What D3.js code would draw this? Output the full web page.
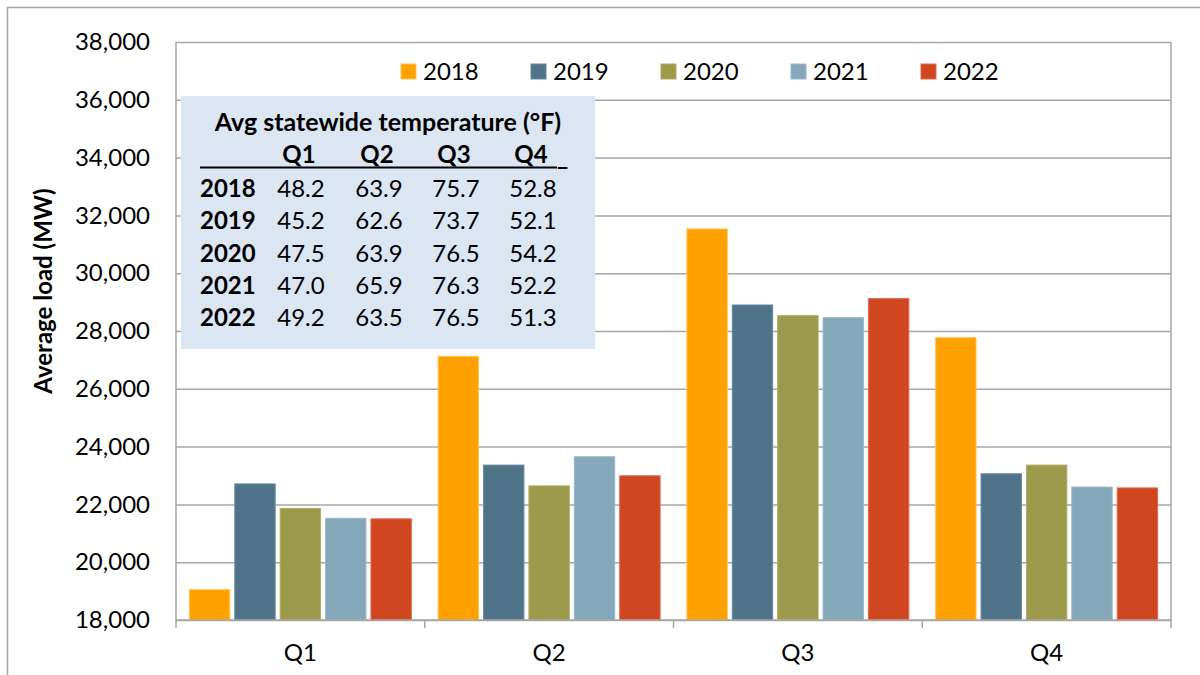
<!DOCTYPE html>
<html>
<head>
<meta charset="utf-8">
<script src="https://cdn.jsdelivr.net/npm/d3@7"></script>
<style>
  html, body { margin: 0; padding: 0; background: #fff; }
  svg { display: block; font-family: Lato, "Open Sans", sans-serif; }
</style>
</head>
<body>
<svg id="chart" width="1200" height="675"></svg>
<script>
// ---- Data ----
const quarters = ["Q1", "Q2", "Q3", "Q4"];
const years = ["2018", "2019", "2020", "2021", "2022"];
const load2018 = [19050, 27120, 31530, 27770];
const load2019 = [22710, 23360, 28900, 23060];
const load2020 = [21860, 22640, 28530, 23360];
const load2021 = [21520, 23650, 28460, 22600];
const load2022 = [21500, 22990, 29120, 22570];
const yTicks = [18000, 20000, 22000, 24000, 26000, 28000, 30000, 32000, 34000, 36000, 38000];
const colors = ["#FFA100", "#4F748A", "#9C9B4C", "#84A7B9", "#D04621"];
const strokes = ["#FFC355", "#6B8A9D", "#ACAB66", "#9CB8C7", "#DE6A4A"];

const tableTitle = "Avg statewide temperature (\u00B0F)";
const tableHeader = ["Q1", "Q2", "Q3", "Q4"];
const temp2018 = ["48.2", "63.9", "75.7", "52.8"];
const temp2019 = ["45.2", "62.6", "73.7", "52.1"];
const temp2020 = ["47.5", "63.9", "76.5", "54.2"];
const temp2021 = ["47.0", "65.9", "76.3", "52.2"];
const temp2022 = ["49.2", "63.5", "76.5", "51.3"];

const series = [load2018, load2019, load2020, load2021, load2022];
const tempRows = [temp2018, temp2019, temp2020, temp2021, temp2022];

// ---- Layout ----
const svg = d3.select("#chart");
const L = 176, R = 1171, T = 42, B = 620;
const gridColor = "#A6A6A6";
const fs = 24;

// outer frame (right/bottom run off-canvas)
svg.append("rect").attr("x", 7.5).attr("y", 7.5).attr("width", 1300).attr("height", 800)
  .attr("fill", "none").attr("stroke", gridColor).attr("stroke-width", 1.5);

const y = d3.scaleLinear().domain([18000, 38000]).range([B, T]);
const x0 = d3.scaleBand().domain(quarters).range([L, R]).padding(0);
const x1 = d3.scaleBand().domain(years).range([0, x0.bandwidth()]).paddingInner(0.11).paddingOuter(0.295);

// gridlines
const grid = svg.append("g").attr("transform", `translate(${L},0)`)
  .call(d3.axisLeft(y).tickValues(yTicks).tickSize(-(R - L)).tickFormat(""));
grid.select(".domain").remove();
grid.selectAll("line").attr("stroke", gridColor).attr("stroke-width", 1.5);

// y axis labels
const yAxis = svg.append("g").attr("transform", `translate(${L},0)`)
  .call(d3.axisLeft(y).tickValues(yTicks).tickSize(0).tickPadding(26).tickFormat(d3.format(",")));
yAxis.select(".domain").remove();
yAxis.selectAll("text").attr("font-family", "Lato").attr("font-size", fs).attr("fill", "#000");

// plot borders left/right
svg.append("line").attr("x1", L).attr("x2", L).attr("y1", T).attr("y2", B + 8)
  .attr("stroke", gridColor).attr("stroke-width", 1.5);
svg.append("line").attr("x1", R).attr("x2", R).attr("y1", T).attr("y2", B + 8)
  .attr("stroke", gridColor).attr("stroke-width", 1.5);

// x axis ticks at category boundaries
const bounds = quarters.slice(1).map(q => x0(q));
svg.append("g").selectAll("line").data(bounds).join("line")
  .attr("x1", d => d).attr("x2", d => d).attr("y1", B).attr("y2", B + 8)
  .attr("stroke", gridColor).attr("stroke-width", 1.5);

// bars
const gq = svg.append("g").selectAll("g").data(quarters).join("g")
  .attr("transform", q => `translate(${x0(q)},0)`);
gq.selectAll("rect").data((q, qi) => years.map((yr, i) => ({ yr, i, v: series[i][qi] })))
  .join("rect")
  .attr("x", d => x1(d.yr))
  .attr("width", x1.bandwidth())
  .attr("y", d => y(d.v))
  .attr("height", d => B - y(d.v))
  .attr("fill", d => colors[d.i])
  .attr("stroke", d => strokes[d.i])
  .attr("stroke-width", 1);

// bottom axis line
svg.append("line").attr("x1", L).attr("x2", R).attr("y1", B).attr("y2", B)
  .attr("stroke", gridColor).attr("stroke-width", 1.5);

// x labels
svg.append("g").selectAll("text").data(quarters).join("text")
  .attr("x", q => x0(q) + x0.bandwidth() / 2)
  .attr("y", 661)
  .attr("text-anchor", "middle")
  .attr("font-size", fs)
  .attr("fill", "#000")
  .text(q => q);

// y title
svg.append("text")
  .attr("transform", "translate(52,291) rotate(-90)")
  .attr("text-anchor", "middle")
  .attr("font-size", fs)
  .attr("font-weight", "bold")
  .attr("fill", "#000")
  .text("Average load (MW)");

// legend
const lg = svg.append("g").selectAll("g").data(years).join("g")
  .attr("transform", (d, i) => `translate(${401 + i * 130},0)`);
lg.append("rect").attr("x", 0).attr("y", 64).attr("width", 15).attr("height", 15)
  .attr("fill", (d, i) => colors[i]).attr("stroke", (d, i) => strokes[i]).attr("stroke-width", 1);
lg.append("text").attr("x", 22).attr("y", 80).attr("font-size", fs).attr("fill", "#000").text(d => d);

// temperature table
const tb = svg.append("g");
tb.append("rect").attr("x", 181).attr("y", 96).attr("width", 414).attr("height", 253).attr("fill", "#DCE6F2");
tb.append("text").attr("x", 388).attr("y", 131).attr("text-anchor", "middle")
  .attr("font-size", fs + 1).attr("font-weight", "bold").attr("fill", "#000").text(tableTitle);
const colX = [301, 379, 456, 533];
tb.append("g").selectAll("text").data(tableHeader).join("text")
  .attr("x", (d, i) => colX[i] - 2).attr("y", 163).attr("text-anchor", "middle")
  .attr("font-size", fs).attr("font-weight", "bold").attr("fill", "#000").text(d => d);
tb.append("text").attr("x", 557).attr("y", 165).attr("font-size", fs).attr("font-weight", "bold").attr("fill", "#000").text("_");
tb.append("line").attr("x1", 200).attr("x2", 557).attr("y1", 167.5).attr("y2", 167.5)
  .attr("stroke", "#000").attr("stroke-width", 2);
const rows = tb.append("g").selectAll("g").data(tempRows).join("g")
  .attr("transform", (d, i) => `translate(0,${197 + i * 32.3})`);
rows.append("text").attr("x", 200).attr("y", 0).attr("font-size", fs).attr("font-weight", "bold")
  .attr("fill", "#000").text((d, i) => years[i]);
rows.selectAll("text.v").data(d => d).join("text").attr("class", "v")
  .attr("x", (d, i) => colX[i]).attr("y", 0).attr("text-anchor", "middle")
  .attr("font-size", fs).attr("fill", "#000").text(d => d);
</script>
</body>
</html>
